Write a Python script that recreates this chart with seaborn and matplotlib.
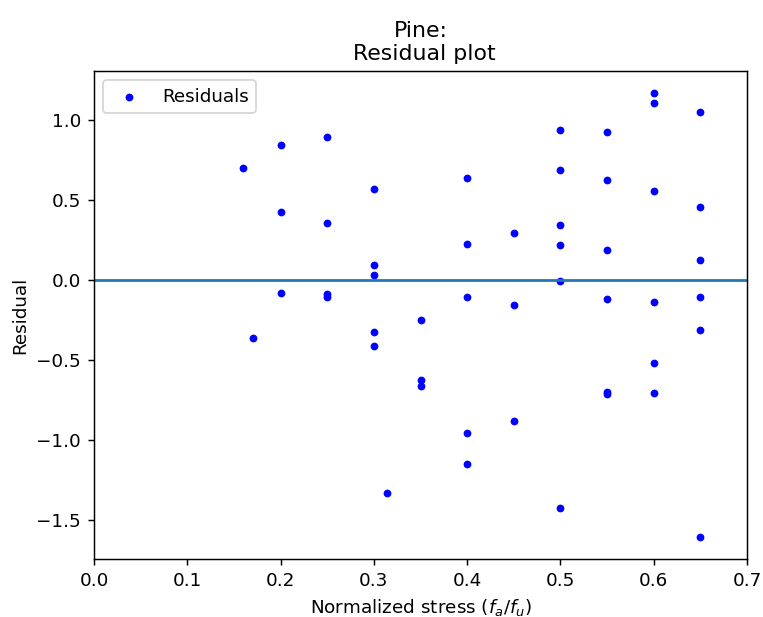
import numpy as np
import pandas as pd
import seaborn as sns
import matplotlib
matplotlib.use("Agg")
import matplotlib.pyplot as plt

# normalized stress levels (f_a / f_u) and residuals
stress = [0.16, 0.17,
          0.20, 0.20, 0.20,
          0.25, 0.25, 0.25, 0.25,
          0.30, 0.30, 0.30, 0.30, 0.30,
          0.314,
          0.35, 0.35, 0.35,
          0.40, 0.40, 0.40, 0.40, 0.40,
          0.45, 0.45, 0.45,
          0.50, 0.50, 0.50, 0.50, 0.50, 0.50,
          0.55, 0.55, 0.55, 0.55, 0.55, 0.55,
          0.60, 0.60, 0.60, 0.60, 0.60, 0.60,
          0.65, 0.65, 0.65, 0.65, 0.65, 0.65]
residual = [0.70, -0.36,
            0.846, 0.425, -0.079,
            0.896, 0.358, -0.09, -0.106,
            0.567, 0.094, 0.029, -0.327, -0.41,
            -1.333,
            -0.252, -0.623, -0.665,
            0.64, 0.227, -0.104, -0.954, -1.152,
            0.294, -0.154, -0.879,
            0.9375, 0.69, 0.344, 0.219, -0.004, -1.425,
            0.929, 0.623, 0.185, -0.12, -0.70, -0.71,
            1.169, 1.11, 0.558, -0.1375, -0.517, -0.706,
            1.052, 0.458, 0.127, -0.104, -0.31, -1.606]

df = pd.DataFrame({"stress": stress, "residual": residual})

fig = plt.figure(figsize=(763 / 132, 617 / 132), dpi=132)
ax = fig.add_axes([94 / 763, 1 - 559 / 617, (747 - 94) / 763, (559 - 71) / 617])

sns.scatterplot(data=df, x="stress", y="residual", color="blue", s=18,
                linewidth=0, label="Residuals", ax=ax)
ax.axhline(0)

ax.set_xlim(0, 0.7)
ax.set_title("Pine:\n Residual plot")
ax.set_xlabel(r"Normalized stress ($f_a/f_u$)")
ax.set_ylabel("Residual")
ax.legend(loc="upper left")

fig.savefig("out.png", dpi=132)
